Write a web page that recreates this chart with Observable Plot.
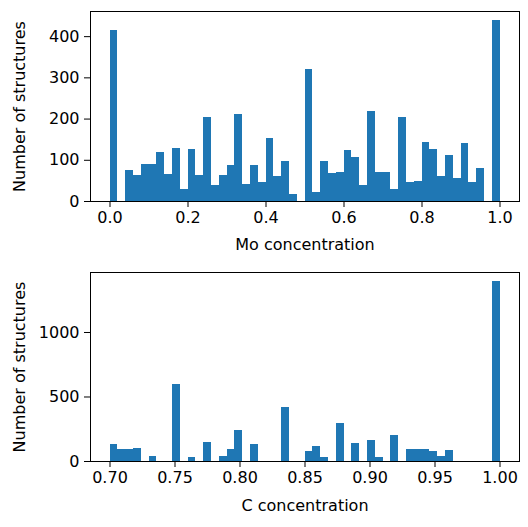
<!DOCTYPE html>
<html>
<head>
<meta charset="utf-8">
<script src="https://cdn.jsdelivr.net/npm/d3@7"></script>
<script src="https://cdn.jsdelivr.net/npm/@observablehq/plot@0.6"></script>
<style>
  html, body { margin: 0; padding: 0; background: #fff; }
  svg { display: block; }
</style>
</head>
<body>
<div id="chart"></div>
<script>
// Histogram of Mo concentration: 50 bins from 0 to 1
const moBinStart = 0.0;
const moBinWidth = 0.02;
const moCounts = [415, 0, 75, 63, 90, 90, 119, 65, 128, 29,
                  126, 63, 204, 39, 63, 87, 211, 41, 87, 46,
                  153, 61, 97, 17, 0, 320, 22, 97, 68, 70,
                  124, 107, 39, 218, 70, 70, 29, 204, 46, 48,
                  143, 126, 61, 112, 56, 140, 46, 80, 0, 439];
const moTicks = [0.0, 0.2, 0.4, 0.6, 0.8, 1.0];
const moYTicks = [0, 100, 200, 300, 400];

// Histogram of C concentration: 50 bins from 0.7 to 1.0
const cBinStart = 0.7;
const cBinWidth = 0.006;
const cCounts = [132, 93, 93, 101, 0, 39, 0, 0, 597, 0,
                 31, 0, 147, 0, 39, 93, 240, 0, 132, 0,
                 0, 0, 419, 0, 0, 77, 116, 31, 0, 295,
                 0, 140, 0, 163, 31, 0, 202, 0, 93, 93,
                 93, 77, 39, 85, 0, 0, 0, 0, 0, 1395];
const cTicks = [0.70, 0.75, 0.80, 0.85, 0.90, 0.95, 1.00];
const cYTicks = [0, 500, 1000];

const yLabel = "Number of structures";
const font = "DejaVu Sans, sans-serif";

function bins(start, width, counts) {
  return counts.map((c, i) => ({x1: start + i * width, x2: start + (i + 1) * width, y: c}));
}

function hist({data, xDomain, yDomain, xTicks, yTicks, xFmt, xLabel, height, marginTop, marginBottom, xLabelOffset}) {
  return Plot.plot({
    width: 528,
    height,
    marginLeft: 90,
    marginRight: 9,
    marginTop,
    marginBottom,
    style: {fontFamily: font, fontSize: "16px", color: "black", background: "white"},
    x: {domain: xDomain},
    y: {domain: yDomain},
    marks: [
      Plot.rectY(data, {x1: "x1", x2: "x2", y: "y", fill: "#1f77b4", shapeRendering: "crispEdges"}),
      Plot.frame({stroke: "black", strokeWidth: 1}),
      Plot.axisX({ticks: xTicks, tickFormat: xFmt, tickSize: 6, tickPadding: 4,
                  label: xLabel, labelAnchor: "center", labelArrow: "none", labelOffset: xLabelOffset}),
      Plot.axisY({ticks: yTicks, tickFormat: d3.format("d"), tickSize: 6, tickPadding: 5,
                  label: yLabel, labelAnchor: "center", labelArrow: "none", labelOffset: 77})
    ]
  });
}

const topChart = hist({
  data: bins(moBinStart, moBinWidth, moCounts),
  xDomain: [-0.05, 1.05], yDomain: [0, 461],
  xTicks: moTicks, yTicks: moYTicks, xFmt: d3.format(".1f"),
  xLabel: "Mo concentration", height: 263, marginTop: 11, marginBottom: 62, xLabelOffset: 48
});
const bottomChart = hist({
  data: bins(cBinStart, cBinWidth, cCounts),
  xDomain: [0.685, 1.015], yDomain: [0, 1465],
  xTicks: cTicks, yTicks: cYTicks, xFmt: d3.format(".2f"),
  xLabel: "C concentration", height: 264, marginTop: 9, marginBottom: 66, xLabelOffset: 49
});
document.getElementById("chart").append(topChart, bottomChart);
</script>
</body>
</html>
